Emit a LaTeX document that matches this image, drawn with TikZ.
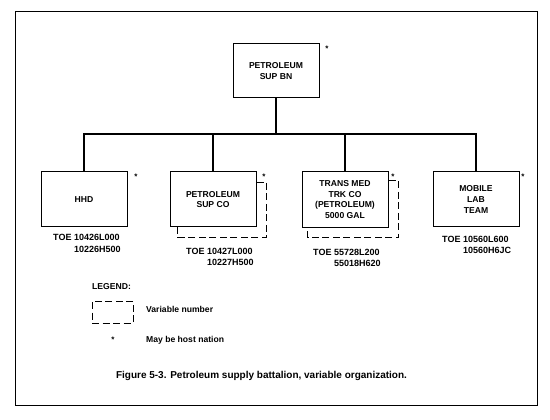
\documentclass[tikz,border=0pt]{standalone}
\usepackage{fontspec}
\setmainfont{Liberation Sans}
\usetikzlibrary{positioning}

\begin{document}
\begin{tikzpicture}[x=1pt,y=-1pt,node distance=42pt,
  every node/.style={font=\fontsize{8.6}{10.6}\selectfont\bfseries,align=center},
  unit/.style={draw,line width=1pt,minimum width=86pt,minimum height=55pt,inner sep=2pt},
  link/.style={line width=2pt},
  varline/.style={line width=1pt,dash pattern=on 7pt off 3.5pt},
  toe/.style={anchor=north west,inner sep=0pt,align=left,font=\fontsize{9}{11.5}\selectfont\bfseries},
  note/.style={anchor=west,inner sep=0pt},
  hostmark/.style={inner sep=0pt,font=\fontsize{8}{8}\selectfont\bfseries}]
\useasboundingbox (0,0) rectangle (550,420);
\draw[line width=0.9pt] (15,11) rectangle (537,405);
% battalion
\node[unit,minimum height=54pt] (bn) at (276,71) {PETROLEUM\\SUP BN};
\node[hostmark] (bnstar) at (327,49) {*};
% companies
\node[unit] (hhd) at (84,199.5) {HHD};
\node[unit,right=42pt of hhd] (supco) {PETROLEUM\\SUP CO};
\node[unit,minimum height=56pt,right=45pt of supco] (trans) {TRANS MED\\TRK CO\\(PETROLEUM)\\5000 GAL};
\node[unit,right=44pt of trans] (lab) {MOBILE\\LAB\\TEAM};
\node[hostmark] (hhdstar) at (136,177) {*};
\node[hostmark] (supcostar) at (264,177) {*};
\node[hostmark] (transstar) at (393,177) {*};
\node[hostmark] (labstar) at (523,177) {*};
% variable number
\draw[varline] ([yshift=-11pt]supco.north east) -| ([shift={(10pt,-10pt)}]supco.south east) -| ([xshift=8pt]supco.south west);
\draw[varline] ([yshift=-10pt]trans.north east) -| ([shift={(10pt,-10pt)}]trans.south east) -| ([xshift=6pt]trans.south west);
% connectors
\coordinate (bus) at (276,134);
\draw[link] (bn.south) -- (bus);
\draw[link] (hhd.north) |- (bus) -| (lab.north);
\draw[link] (supco.north) -- (supco.north |- bus);
\draw[link] (trans.north) -- (trans.north |- bus);
% TOE numbers
\node[toe] (hhdtoe) at (53,234.5) {TOE 10426L000\\\phantom{TOE\ }10226H500};
\node[toe] (supcotoe) at (186,248) {TOE 10427L000\\\phantom{TOE\ }10227H500};
\node[toe] (transtoe) at (313,249) {TOE 55728L200\\\phantom{TOE\ }55018H620};
\node[toe] (labtoe) at (442,236) {TOE 10560L600\\\phantom{TOE\ }10560H6JC};
% legend
\node[note] (legtitle) at (92,287) {LEGEND:};
\node[draw,varline,minimum width=41pt,minimum height=22pt,inner sep=0pt] (legbox) at (112.5,312) {};
\node[note] (legvar) at (146,309) {Variable number};
\node[hostmark] (legstar) at (113,339.5) {*};
\node[note] (leghost) at (146,340) {May be host nation};
% caption
\node[font=\fontsize{10}{12}\selectfont\bfseries] (caption) at (261.5,376) {Figure 5-3. Petroleum supply battalion, variable organization.};
\end{tikzpicture}
\end{document}
